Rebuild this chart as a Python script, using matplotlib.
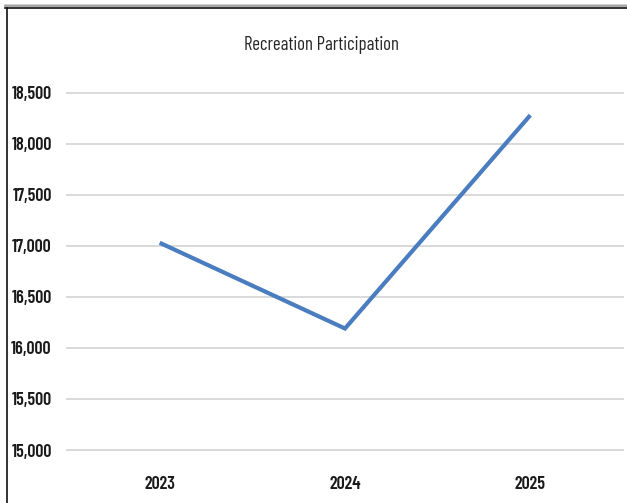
import matplotlib
matplotlib.use("Agg")
import matplotlib.pyplot as plt
from matplotlib.lines import Line2D
from matplotlib.ticker import FuncFormatter

years = ["2023", "2024", "2025"]
participation = [17030, 16190, 18280]
y_ticks = [15000, 15500, 16000, 16500, 17000, 17500, 18000, 18500]
title = "Recreation Participation"

plt.rcParams["font.family"] = ["Barlow Condensed", "DejaVu Sans"]

W, H = 627, 503
fig = plt.figure(figsize=(W / 100, H / 100), dpi=100)
ax = fig.add_axes([67 / W, 1 - 450 / H, (623 - 67) / W, (450 - 92.7) / H])

x = list(range(len(years)))
ax.plot(x, participation, color="#4a7dbf", linewidth=3.0, solid_capstyle="butt",
        solid_joinstyle="miter", zorder=3)

ax.set_xlim(-0.5, len(years) - 0.5)
ax.set_ylim(y_ticks[0], y_ticks[-1])
ax.set_yticks(y_ticks)
ax.yaxis.set_major_formatter(FuncFormatter(lambda v, p: f"{int(v):,}"))
ax.set_xticks(x)
ax.set_xticklabels(years)

ax.grid(axis="y", color="#d9d9d9", linewidth=1.4)
for gl in ax.get_ygridlines():
    gl.set_clip_on(False)
ax.set_axisbelow(True)
for s in ax.spines.values():
    s.set_visible(False)
ax.tick_params(axis="both", length=0, labelsize=13, labelcolor="#1a1a1a")
ax.tick_params(axis="y", pad=11)
ax.tick_params(axis="x", pad=19)
for lab in ax.get_xticklabels() + ax.get_yticklabels():
    lab.set_fontweight("semibold")

fig.text(321 / W, 1 - 45 / H, title, ha="center", va="center",
         fontsize=13.5, color="#262626")

# frame edges with a soft shadow along the top
for off, col in [(-3, "#c8c8c8"), (-2, "#9a9a9a"), (0, "#111111")]:
    yy = 1 - (8 + off) / H
    fig.add_artist(Line2D([5 / W, 1], [yy, yy], color=col, linewidth=1.2,
                          transform=fig.transFigure))
fig.add_artist(Line2D([7 / W, 7 / W], [0, 1 - 8 / H], color="#111111",
                      linewidth=1.2, transform=fig.transFigure))

fig.savefig("out.png", dpi=100)
